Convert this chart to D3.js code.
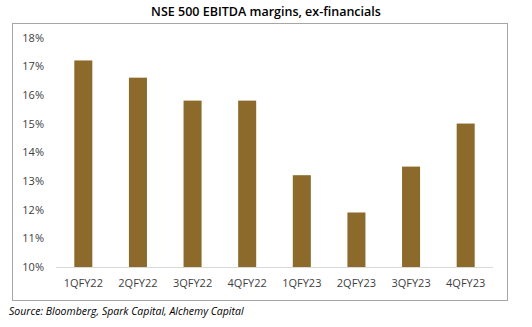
<!DOCTYPE html>
<html>
<head>
<meta charset="utf-8">
<script src="https://cdn.jsdelivr.net/npm/d3@7"></script>
<style>
  body { margin: 0; background: #fff; }
  svg { display: block; font-family: "Open Sans", "Liberation Sans", sans-serif; }
</style>
</head>
<body>
<svg id="chart" width="532" height="327"></svg>
<script>
// quarterly EBITDA margin, NSE 500 ex-financials (%)
var quarters = ["1QFY22", "2QFY22", "3QFY22", "4QFY22", "1QFY23", "2QFY23", "3QFY23", "4QFY23"];
var margins = [17.2, 16.6, 15.8, 15.8, 13.2, 11.9, 13.5, 15.0];
var yTicks = [10, 11, 12, 13, 14, 15, 16, 17, 18];

var svg = d3.select("#chart");

// outer frame
svg.append("rect")
    .attr("x", 12.5).attr("y", 23.5)
    .attr("width", 495).attr("height", 277)
    .attr("fill", "none")
    .attr("stroke", "#a6a6a6")
    .attr("stroke-width", 1);

svg.append("text")
    .attr("x", 266).attr("y", 16)
    .attr("text-anchor", "middle")
    .attr("font-size", 12.5)
    .attr("font-weight", 600)
    .attr("fill", "#000")
    .text("NSE 500 EBITDA margins, ex-financials");

var x = d3.scaleBand()
    .domain(quarters)
    .range([56, 493])
    .paddingInner(0.67)
    .paddingOuter(0.335);

var y = d3.scaleLinear()
    .domain([10, 18])
    .range([267, 37.5]);

var yAxis = d3.axisLeft(y)
    .tickValues(yTicks)
    .tickSize(0)
    .tickPadding(0)
    .tickFormat(function(d) { return d + "%"; });

var gy = svg.append("g")
    .attr("transform", "translate(44,0)")
    .call(yAxis);
gy.select(".domain").remove();
gy.selectAll("text")
    .attr("font-size", 11)
    .attr("fill", "#404040")
    .style("font-family", "'Open Sans', sans-serif");

svg.selectAll("rect.bar")
    .data(margins)
    .enter()
    .append("rect")
    .attr("class", "bar")
    .attr("x", function(d, i) { return x(quarters[i]); })
    .attr("y", function(d) { return y(d); })
    .attr("width", x.bandwidth())
    .attr("height", function(d) { return y(10) - y(d); })
    .attr("fill", "#8b6a2b");

// baseline
svg.append("line")
    .attr("x1", 56).attr("x2", 493)
    .attr("y1", y(10) + 0.5).attr("y2", y(10) + 0.5)
    .attr("stroke", "#d9d9d9")
    .attr("stroke-width", 1);

var xAxis = d3.axisBottom(x).tickSize(0).tickPadding(0);
var gx = svg.append("g")
    .attr("transform", "translate(0,283)")
    .call(xAxis);
gx.select(".domain").remove();
gx.selectAll("text")
    .attr("dy", "0.35em")
    .attr("font-size", 11)
    .attr("fill", "#404040")
    .style("font-family", "'Open Sans', sans-serif");

svg.append("text")
    .attr("x", 9).attr("y", 315)
    .attr("font-size", 10.5)
    .attr("font-style", "italic")
    .attr("fill", "#000")
    .text("Source: Bloomberg, Spark Capital, Alchemy Capital");
</script>
</body>
</html>
